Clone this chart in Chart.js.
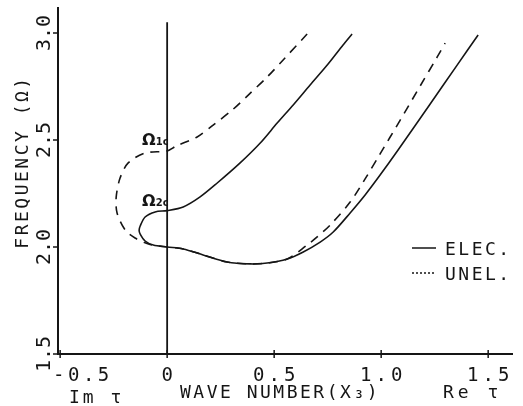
<!DOCTYPE html>
<html>
<head>
<meta charset="utf-8">
<script src="https://cdn.jsdelivr.net/npm/chart.js"></script>
<style>
  body { margin: 0; background: #fff; }
  #wrap { width: 523px; height: 406px; }
</style>
</head>
<body>
<div id="wrap"><canvas id="myChart" width="523" height="406"></canvas></div>
<script>
// tick values + labels
const xTicks = [-0.5, 0, 0.5, 1.0, 1.5];
const xTickLabels = ['-0.5', '0', '0.5', '1.0', '1.5'];
const yTicks = [1.5, 2.0, 2.5, 3.0];
const yTickLabels = ['1.5', '2.0', '2.5', '3.0'];

// ELEC branch (upper right -> loop -> lower right)
const elecX = [0.864, 0.822, 0.748, 0.668, 0.589, 0.514, 0.435, 0.341, 0.234, 0.154, 0.075, 0,
  -0.056, -0.103, -0.126, -0.131, -0.126, -0.103, -0.065, 0,
  0.075, 0.168, 0.280, 0.388, 0.467, 0.561, 0.636, 0.715, 0.776, 0.855, 0.925, 0.995, 1.079, 1.229, 1.355, 1.453];
const elecY = [2.995, 2.944, 2.850, 2.757, 2.664, 2.579, 2.486, 2.393, 2.299, 2.234, 2.187, 2.170,
  2.164, 2.140, 2.098, 2.078, 2.060, 2.028, 2.009, 2.0,
  1.991, 1.963, 1.930, 1.921, 1.925, 1.944, 1.977, 2.023, 2.070, 2.159, 2.243, 2.336, 2.453, 2.668, 2.850, 2.991];

// UNEL branch
const unelX = [0.654, 0.542, 0.467, 0.379, 0.304, 0.215, 0.140, 0.042, 0,
  -0.103, -0.182, -0.220, -0.238, -0.234, -0.196, -0.150, -0.080, 0,
  0.075, 0.168, 0.280, 0.388, 0.467, 0.561, 0.654, 0.701, 0.762, 0.855, 0.925, 0.995, 1.089, 1.182, 1.262, 1.299];
const unelY = [2.995, 2.874, 2.794, 2.710, 2.640, 2.570, 2.514, 2.472, 2.449,
  2.439, 2.393, 2.322, 2.234, 2.159, 2.079, 2.042, 2.012, 2.0,
  1.991, 1.963, 1.930, 1.921, 1.925, 1.944, 2.009, 2.047, 2.103, 2.210, 2.318, 2.435, 2.593, 2.752, 2.888, 2.953];

// the Re/Im divider at zero
const zeroLineX = [0, 0];
const zeroLineY = [1.5, 3.05];

function toPoints(xs, ys) {
  return xs.map(function(x, i) { return { x: x, y: ys[i] }; });
}

const ink = '#151515';
const mono = '"DejaVu Sans Mono", monospace';

function txt(ctx, s, x, y, size, spacing, align) {
  ctx.font = size + 'px ' + mono;
  ctx.letterSpacing = spacing + 'px';
  ctx.textAlign = align || 'left';
  ctx.textBaseline = 'alphabetic';
  ctx.fillText(s, x, y);
}

// axes, labels, legend, markers
const plotterPlugin = {
  id: 'plotter',
  afterDraw: function(chart) {
    const ctx = chart.ctx;
    const a = chart.chartArea;
    const xs = chart.scales.x;
    const ys = chart.scales.y;
    ctx.save();
    ctx.strokeStyle = ink;
    ctx.fillStyle = ink;
    ctx.lineWidth = 2;

    // axis lines
    ctx.beginPath();
    ctx.moveTo(a.left, a.top);
    ctx.lineTo(a.left, a.bottom);
    ctx.lineTo(a.right, a.bottom);
    ctx.stroke();

    ctx.lineWidth = 1.5;
    // y ticks + labels
    yTicks.forEach(function(v, i) {
      const py = ys.getPixelForValue(v);
      ctx.beginPath();
      ctx.moveTo(a.left - 5, py);
      ctx.lineTo(a.left, py);
      ctx.stroke();
      ctx.save();
      ctx.translate(50, py);
      ctx.rotate(-Math.PI / 2);
      txt(ctx, yTickLabels[i], 0, 0, 20, 0, 'center');
      ctx.restore();
    });

    // x ticks + labels
    xTicks.forEach(function(v, i) {
      const px = xs.getPixelForValue(v);
      ctx.beginPath();
      ctx.moveTo(px, a.bottom - 4);
      ctx.lineTo(px, a.bottom + 4);
      ctx.stroke();
      if (i === 0) {
        txt(ctx, xTickLabels[i], a.left - 5, 381, 19, 3.5, 'left');
      } else {
        txt(ctx, xTickLabels[i], px + 2, 381, 19, 4, 'center');
      }
    });

    // axis titles
    txt(ctx, 'Im τ', 69, 403, 18, 3, 'left');
    txt(ctx, 'WAVE NUMBER(X₃)', 180, 398, 18, 2.5, 'left');
    txt(ctx, 'Re τ', 443, 398, 18, 4, 'left');
    ctx.save();
    ctx.translate(28, 162);
    ctx.rotate(-Math.PI / 2);
    txt(ctx, 'FREQUENCY (Ω)', 0, 0, 18, 2.5, 'center');
    ctx.restore();

    // legend
    chart.data.datasets.forEach(function(ds) {
      if (!ds.legendY) return;
      ctx.save();
      ctx.lineWidth = 1.5;
      ctx.setLineDash(ds.legendDash);
      ctx.beginPath();
      ctx.moveTo(412, ds.legendY);
      ctx.lineTo(436, ds.legendY);
      ctx.stroke();
      ctx.restore();
      txt(ctx, ds.label, 445, ds.legendY + 7, 18, 2.5, 'left');
    });

    // critical frequency markers
    const marks = [
      { sub: '1c', x: -0.117, y: 2.477 },
      { sub: '2c', x: -0.117, y: 2.192 }
    ];
    marks.forEach(function(m) {
      const px = xs.getPixelForValue(m.x);
      const py = ys.getPixelForValue(m.y);
      ctx.letterSpacing = '0px';
      ctx.textAlign = 'left';
      ctx.textBaseline = 'alphabetic';
      ctx.font = 'bold 16px "DejaVu Sans"';
      ctx.fillText('Ω', px, py);
      const w = ctx.measureText('Ω').width;
      ctx.font = 'bold 10px "DejaVu Sans"';
      ctx.fillText(m.sub, px + w, py);
    });

    ctx.restore();
  }
};

const ctx = document.getElementById('myChart').getContext('2d');

const chart = new Chart(ctx, {
  type: 'scatter',
  data: {
    datasets: [
      {
        label: 'ELEC.',
        data: toPoints(elecX, elecY),
        showLine: true,
        borderColor: ink,
        borderWidth: 1.6,
        pointRadius: 0,
        tension: 0.3,
        legendY: 248,
        legendDash: []
      },
      {
        label: 'UNEL.',
        data: toPoints(unelX, unelY),
        showLine: true,
        borderColor: ink,
        borderWidth: 1.6,
        borderDash: [9, 7],
        pointRadius: 0,
        tension: 0.3,
        legendY: 273,
        legendDash: [2, 2]
      },
      {
        label: 'zero',
        data: toPoints(zeroLineX, zeroLineY),
        showLine: true,
        borderColor: ink,
        borderWidth: 1.8,
        pointRadius: 0
      }
    ]
  },
  options: {
    responsive: false,
    animation: false,
    devicePixelRatio: 1,
    layout: { padding: { left: 58, right: 10, top: 7, bottom: 52 } },
    plugins: {
      legend: { display: false },
      tooltip: { enabled: false }
    },
    scales: {
      x: { type: 'linear', min: -0.51, max: 1.616, display: false },
      y: { type: 'linear', min: 1.5, max: 3.1215, display: false }
    }
  },
  plugins: [plotterPlugin]
});
</script>
</body>
</html>
